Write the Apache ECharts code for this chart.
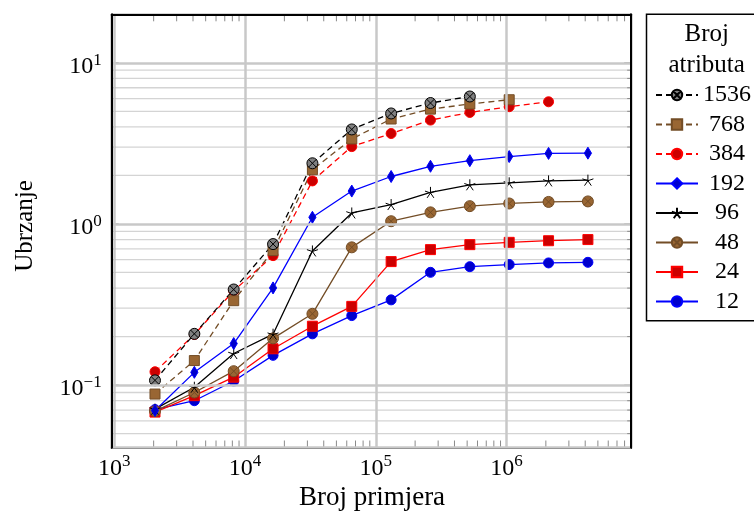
<!DOCTYPE html>
<html><head><meta charset="utf-8">
<script src="https://cdn.jsdelivr.net/npm/echarts@6/dist/echarts.min.js"></script>
<style>html,body{margin:0;padding:0;background:#fff}#c{width:754px;height:514px}</style>
</head><body><div id="c"></div>
<script>
// ---- data ----
const xValues = [2048, 4096, 8192, 16384, 32768, 65536, 131072, 262144, 524288, 1048576, 2097152, 4194304];
const s12   = [0.0705, 0.080, 0.106, 0.153, 0.208, 0.270, 0.338, 0.501, 0.543, 0.560, 0.573, 0.578];
const s24   = [0.068, 0.086, 0.112, 0.168, 0.232, 0.308, 0.584, 0.693, 0.744, 0.769, 0.787, 0.800];
const s48   = [0.069, 0.090, 0.122, 0.195, 0.277, 0.716, 1.04, 1.18, 1.29, 1.34, 1.37, 1.38];
const s96   = [0.071, 0.097, 0.157, 0.207, 0.680, 1.17, 1.32, 1.57, 1.75, 1.80, 1.85, 1.87];
const s192  = [0.0696, 0.120, 0.181, 0.401, 1.10, 1.60, 1.97, 2.28, 2.47, 2.62, 2.74, 2.75];
const s384  = [0.121, 0.206, 0.385, 0.636, 1.85, 3.02, 3.64, 4.41, 4.92, 5.34, 5.73];
const s768  = [0.088, 0.142, 0.334, 0.683, 2.17, 3.37, 4.48, 5.16, 5.55, 5.90];
const s1536 = [0.107, 0.208, 0.392, 0.750, 2.38, 3.86, 4.85, 5.63, 6.18];
const legendOrder = ['1536', '768', '384', '192', '96', '48', '24', '12'];
const xTickExps = [3, 4, 5, 6];
const yTickExps = [-1, 0, 1];
const xTitle = 'Broj primjera';
const yTitle = 'Ubrzanje';
const legendTitle = ['Broj', 'atributa'];

// ---- axis ranges ----
const xMin = Math.pow(10, 2.9802), xMax = Math.pow(10, 6.9538);
const yMin = 0.041, yMax = 20;

const FONT = 'Liberation Serif';
const OTIMES = 'path://M10,0 A10,10 0 1,1 -10,0 A10,10 0 1,1 10,0 Z M7.07,7.07 L-7.07,-7.07 M-7.07,7.07 L7.07,-7.07';
const STAR = 'path://M0,-10 L0,0 M9.51,-3.09 L0,0 M5.88,8.09 L0,0 M-5.88,8.09 L0,0 M-9.51,-3.09 L0,0';
const DIAMOND = 'path://M0,-10 L6,0 L0,10 L-6,0 Z';

function isPow(v, exps) {
  const l = Math.log10(v); const e = Math.round(l);
  return Math.abs(l - e) < 1e-6 && exps.indexOf(e) >= 0;
}
function powLabel(v, exps) {
  if (!isPow(v, exps)) return '';
  const e = Math.round(Math.log10(v));
  return '{b|10}{s|' + (e < 0 ? '\u2212' + (-e) : e) + '}';
}
const richLab = {
  b: {fontSize: 24, fontFamily: FONT, color: '#000', lineHeight: 30},
  s: {fontSize: 17, fontFamily: FONT, color: '#000', lineHeight: 19, verticalAlign: 'top'}
};

// minor grid positions (decoration)
const minorData = [];
[-2, -1, 0, 1].forEach(k => { for (let m = 2; m <= 9; m++) { const v = m * Math.pow(10, k); if (v > yMin && v < yMax) minorData.push([xMin * 1.0001, v, 0]); } });
[2, 3, 4, 5, 6].forEach(k => { for (let m = 2; m <= 9; m++) { const v = m * Math.pow(10, k); if (v > xMin && v < xMax) minorData.push([v, yMin * 1.0001, 1]); } });
[-1, 0, 1].forEach(k => minorData.push([xMin * 1.0001, Math.pow(10, k), 2]));

function renderMinor(params, api) {
  const cs = params.coordSys;
  const kind = api.value(2);
  if (kind === 0 || kind === 2) {
    const p = api.coord([xMin * 1.0001, api.value(1)]);
    const y = p[1];
    const ch = [];
    if (kind === 0) ch.push({type: 'line', shape: {x1: cs.x, y1: y, x2: cs.x + cs.width, y2: y}, style: {stroke: '#d4d4d4', lineWidth: 1.3}});
    const tl = kind === 0 ? 4 : 7;
    ch.push({type: 'line', shape: {x1: cs.x, y1: y, x2: cs.x + tl, y2: y}, style: {stroke: '#8a8a8a', lineWidth: 1}});
    ch.push({type: 'line', shape: {x1: cs.x + cs.width - tl, y1: y, x2: cs.x + cs.width, y2: y}, style: {stroke: '#8a8a8a', lineWidth: 1}});
    return {type: 'group', children: ch};
  } else {
    const p = api.coord([api.value(0), yMin * 1.0001]);
    const x = p[0];
    return {type: 'group', children: [
      {type: 'line', shape: {x1: x, y1: cs.y + cs.height, x2: x, y2: cs.y + cs.height - 7}, style: {stroke: '#8a8a8a', lineWidth: 1}},
      {type: 'line', shape: {x1: x, y1: cs.y, x2: x, y2: cs.y + 7}, style: {stroke: '#8a8a8a', lineWidth: 1}}
    ]};
  }
}

function mk(name, ys, color, fill, symbol, size, dashed, keep) {
  return {
    name: name, type: 'line', z: 3,
    data: ys.map((y, i) => [xValues[i], y]),
    symbol: symbol, symbolSize: size, symbolKeepAspect: !!keep,
    lineStyle: {color: color, width: 1.3, type: dashed ? [6, 4] : 'solid'},
    itemStyle: {color: fill, borderColor: color, borderWidth: 1},
    emphasis: {disabled: true},
    animation: false
  };
}

const series = [
  {type: 'custom', z: 1, silent: true, animation: false, renderItem: renderMinor, data: minorData, encode: {x: 0, y: 1}, clip: false},
  mk('12', s12, '#0000ff', '#0000cc', 'circle', 10, false),
  mk('24', s24, '#ff0000', '#cc0000', 'rect', 10, false),
  mk('48', s48, '#734d26', '#996633', OTIMES, 11, false),
  mk('96', s96, '#000000', '#000000', STAR, 11, false),
  mk('192', s192, '#0000ff', '#0000cc', DIAMOND, 12, false, true),
  mk('384', s384, '#ff0000', '#cc0000', 'circle', 10, true),
  mk('768', s768, '#734d26', '#996633', 'rect', 10, true),
  mk('1536', s1536, '#000000', '#808080', OTIMES, 11, true)
];

const frameLine = {show: true, onZero: false, lineStyle: {color: '#000', width: 2}};
const chart = echarts.init(document.getElementById('c'), null, {renderer: 'canvas'});
chart.setOption({
  animation: false,
  backgroundColor: '#fff',
  grid: {left: 111.7, top: 14.3, width: 519.5, height: 433.2, show: false},
  xAxis: [{
    type: 'log', min: xMin, max: xMax, position: 'bottom', z: 5,
    axisLine: frameLine, axisTick: {show: false},
    axisLabel: {interval: 0, margin: 6, formatter: v => powLabel(v, xTickExps), rich: richLab, showMinLabel: true, showMaxLabel: true},
    splitLine: {show: true, interval: (i, v) => isPow(Number(v), xTickExps), lineStyle: {color: '#c8c8c8', width: 2.5}}
  }, {
    type: 'log', min: xMin, max: xMax, position: 'top', z: 10,
    axisLine: frameLine, axisTick: {show: false}, axisLabel: {show: false}, splitLine: {show: false}
  }],
  yAxis: [{
    type: 'log', min: yMin, max: yMax, position: 'left', z: 10,
    axisLine: frameLine, axisTick: {show: false},
    axisLabel: {interval: 0, margin: 10, padding: [8, 0, 0, 0], formatter: v => powLabel(v, yTickExps), rich: richLab},
    splitLine: {show: true, interval: (i, v) => isPow(Number(v), yTickExps), lineStyle: {color: '#c8c8c8', width: 2.5}}
  }, {
    type: 'log', min: yMin, max: yMax, position: 'right', z: 10,
    axisLine: frameLine, axisTick: {show: false}, axisLabel: {show: false}, splitLine: {show: false}
  }],
  legend: {
    data: legendOrder, orient: 'vertical', left: 655, top: 83, padding: 0,
    itemWidth: 42, itemHeight: 13, itemGap: 5.5,
    selectedMode: false,
    formatter: n => '{n|' + n + '}',
    textStyle: {fontFamily: FONT, fontSize: 24, color: '#000', rich: {n: {width: 48, align: 'center', fontSize: 24, lineHeight: 24, fontFamily: FONT, color: '#000'}}}
  },
  graphic: [
    {type: 'rect', z: -1, shape: {x: 646.5, y: 14.3, width: 130, height: 306.5}, style: {fill: '#fff', stroke: '#000', lineWidth: 1.5}},
    {type: 'text', x: 706.7, y: 34, style: {text: legendTitle[0], font: '25px "' + FONT + '"', fill: '#000', textAlign: 'center', textVerticalAlign: 'middle'}},
    {type: 'text', x: 706.7, y: 65, style: {text: legendTitle[1], font: '25px "' + FONT + '"', fill: '#000', textAlign: 'center', textVerticalAlign: 'middle'}},
    {type: 'text', x: 372, y: 498, style: {text: xTitle, font: '27px "' + FONT + '"', fill: '#000', textAlign: 'center', textVerticalAlign: 'middle'}},
    {type: 'text', x: 25, y: 226, rotation: Math.PI / 2, style: {text: yTitle, font: '25px "' + FONT + '"', fill: '#000', textAlign: 'center', textVerticalAlign: 'middle'}}
  ],
  series: series
});
</script></body></html>
